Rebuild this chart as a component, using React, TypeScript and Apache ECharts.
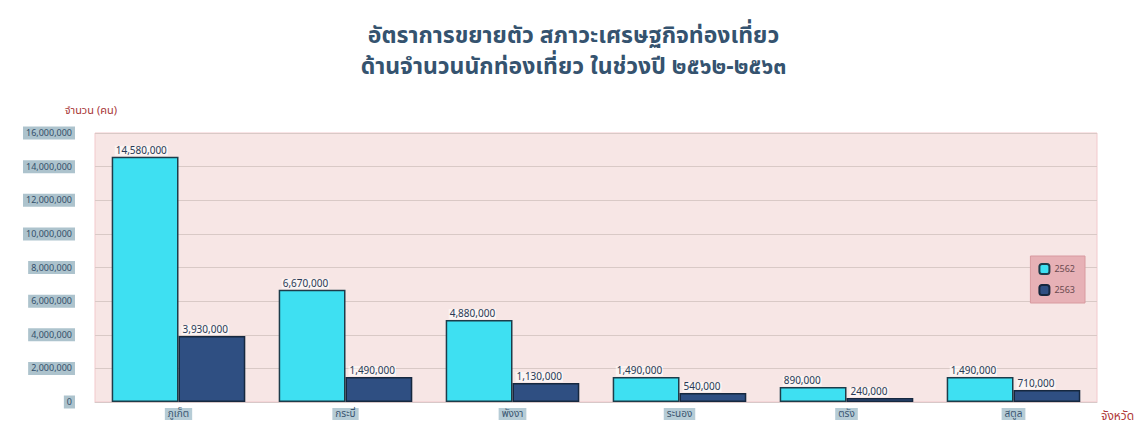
import React, { useEffect, useRef } from "react";
import * as echarts from "echarts";

const titleLines = [
  "อัตราการขยายตัว สภาวะเศรษฐกิจท่องเที่ยว",
  "ด้านจำนวนนักท่องเที่ยว ในช่วงปี ๒๕๖๒-๒๕๖๓",
];
const provinces = ["ภูเก็ต", "กระบี่", "พังงา", "ระนอง", "ตรัง", "สตูล"];
const seriesNames = ["2562", "2563"];
const values2562 = [14580000, 6670000, 4880000, 1490000, 890000, 1490000];
const values2563 = [3930000, 1490000, 1130000, 540000, 240000, 710000];
const yTicks = { min: 0, max: 16000000, interval: 2000000 };
const yAxisName = "จำนวน (คน)";
const xAxisName = "จังหวัด";

const FONT = '"Noto Sans Thai", "Noto Sans", "DejaVu Sans", sans-serif';

export default function App() {
  const ref = useRef<HTMLDivElement>(null);
  useEffect(() => {
    if (!ref.current) return;
    const chart = echarts.init(ref.current, null, { renderer: "svg" });
    const fmt = (v: number) => v.toLocaleString("en-US");
    const labelStyle = {
      show: true,
      position: [3, -11],
      fontSize: 10,
      color: "#2a3a55",
      fontFamily: FONT,
      backgroundColor: "rgba(255,255,255,0.55)",
      padding: [0, 1],
      formatter: (p: any) => fmt(p.value),
    };
    const titleStyle = {
      fontSize: 23,
      lineHeight: 30,
      fontWeight: "bold",
      color: "#35536f",
      fontFamily: FONT,
    };
    chart.setOption({
      animation: false,
      textStyle: { fontFamily: FONT },
      title: {
        text: titleLines[0],
        subtext: titleLines[1],
        left: "center",
        top: 21,
        padding: 0,
        itemGap: 1,
        textStyle: titleStyle,
        subtextStyle: titleStyle,
      },
      legend: {
        orient: "vertical",
        right: 62,
        top: 256,
        data: seriesNames,
        backgroundColor: "#e7b1b6",
        borderColor: "#d89aa0",
        borderWidth: 1,
        padding: [7, 10, 7, 8],
        itemGap: 9,
        itemWidth: 10,
        itemHeight: 10,
        textStyle: { fontSize: 9, color: "#6a4a50", fontFamily: FONT },
      },
      grid: { left: 95, right: 50, top: 133, bottom: 23, show: true, backgroundColor: "#f7e6e5", borderColor: "#f2c9cc", borderWidth: 1 },
      xAxis: {
        type: "category",
        data: provinces,
        name: xAxisName,
        nameLocation: "end",
        nameGap: 4,
        nameTextStyle: { color: "#b03a3a", fontSize: 12, verticalAlign: "top", padding: [8, 0, 0, 0] },
        axisLine: { lineStyle: { color: "#d8c8c8" } },
        axisTick: { show: false },
        axisLabel: {
          fontSize: 10,
          color: "#3a5570",
          backgroundColor: "#b6ccd6",
          padding: [1, 3],
          margin: 6,
        },
      },
      yAxis: {
        type: "value",
        min: yTicks.min,
        max: yTicks.max,
        interval: yTicks.interval,
        name: yAxisName,
        nameLocation: "end",
        nameGap: 17,
        nameTextStyle: { color: "#a83838", fontSize: 11, align: "right", padding: [0, -22, 0, 0] },
        axisLine: { show: false },
        axisTick: { show: false },
        splitLine: { lineStyle: { color: "#d9c9c6", width: 1 } },
        axisLabel: {
          fontSize: 9,
          color: "#33506a",
          backgroundColor: "#adc3cd",
          padding: [2, 3],
          margin: 20,
          formatter: (v: number) => fmt(v),
        },
      },
      series: [
        {
          name: seriesNames[0],
          type: "bar",
          data: values2562,
          barGap: "0%",
          barCategoryGap: "20%",
          itemStyle: { color: "#3ee0f2", borderColor: "#1d3c4a", borderWidth: 1.5 },
          label: labelStyle,
        },
        {
          name: seriesNames[1],
          type: "bar",
          data: values2563,
          barGap: "0%",
          barCategoryGap: "20%",
          itemStyle: { color: "#2f4f82", borderColor: "#16283f", borderWidth: 1.5 },
          label: labelStyle,
        },
      ],
    });
    return () => chart.dispose();
  }, []);
  return <div ref={ref} style={{ width: 1147, height: 425, position: "absolute", left: 0, top: 0 }} />;
}
